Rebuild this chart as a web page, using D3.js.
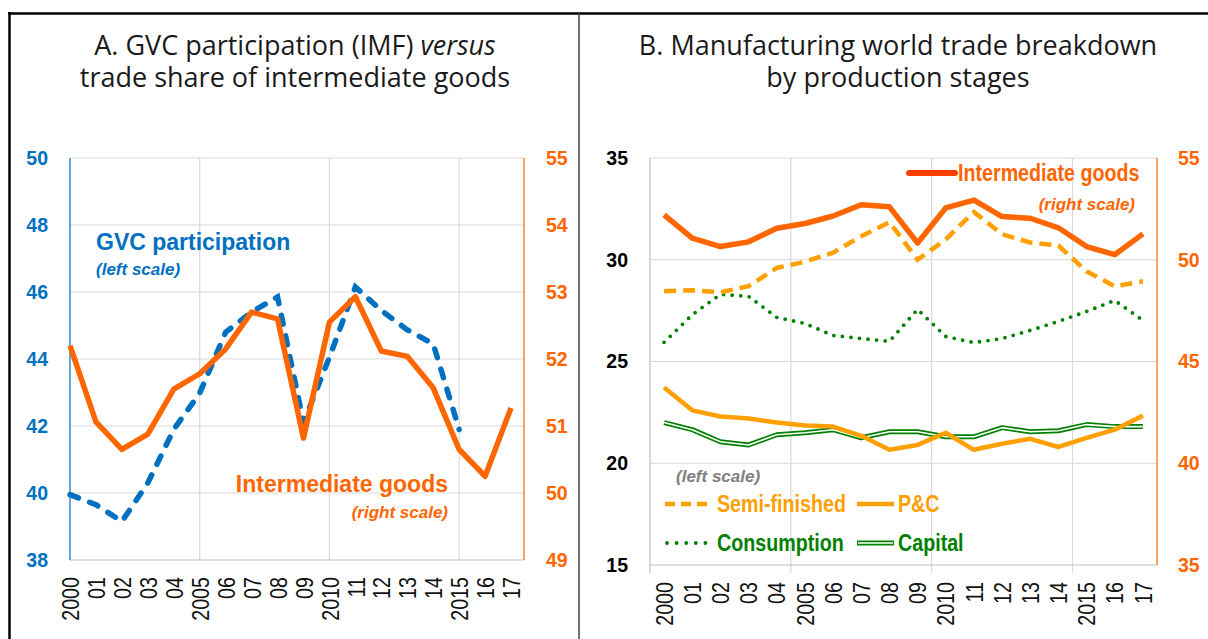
<!DOCTYPE html>
<html>
<head>
<meta charset="utf-8">
<script src="https://cdn.jsdelivr.net/npm/d3@7"></script>
<style>
  body { margin: 0; background: #fff; }
  svg text { font-family: "Liberation Sans", Arial, sans-serif; }
  .title { font-family: "Open Sans", sans-serif !important; font-size: 27px; fill: #1a1a1a; }
</style>
</head>
<body>
<svg id="chart" width="1208" height="639"></svg>
<script>
// ---- data ----
var years = [2000, 2001, 2002, 2003, 2004, 2005, 2006, 2007, 2008, 2009, 2010, 2011, 2012, 2013, 2014, 2015, 2016, 2017];
var yearLabels = ["2000", "01", "02", "03", "04", "2005", "06", "07", "08", "09", "2010", "11", "12", "13", "14", "2015", "16", "17"];
var gvcYears = [2000, 2001, 2002, 2003, 2004, 2005, 2006, 2007, 2008, 2009, 2010, 2011, 2012, 2013, 2014, 2015];
var gvc = [39.95, 39.65, 39.15, 40.3, 41.9, 42.98, 44.8, 45.4, 45.85, 42.1, 44.05, 46.15, 45.45, 44.87, 44.45, 41.9];
var interGoods = [52.2, 51.06, 50.65, 50.88, 51.55, 51.78, 52.15, 52.7, 52.6, 50.82, 52.55, 52.93, 52.12, 52.04, 51.57, 50.65, 50.25, 51.27];
var semiFinished = [28.45, 28.5, 28.4, 28.7, 29.6, 29.9, 30.35, 31.15, 31.85, 30.0, 31.0, 32.35, 31.25, 30.85, 30.7, 29.43, 28.7, 28.94];
var pAndC = [23.72, 22.6, 22.3, 22.2, 22.0, 21.85, 21.8, 21.35, 20.66, 20.9, 21.5, 20.66, 20.96, 21.2, 20.8, 21.25, 21.65, 22.34];
var consumption = [25.94, 27.3, 28.3, 28.2, 27.17, 26.87, 26.28, 26.13, 25.99, 27.56, 26.23, 25.93, 26.13, 26.53, 26.97, 27.46, 28.0, 27.02];
var capital = [22.0, 21.65, 21.06, 20.9, 21.4, 21.5, 21.65, 21.25, 21.55, 21.55, 21.3, 21.3, 21.75, 21.55, 21.6, 21.9, 21.8, 21.8];

var ticksALeft = [38, 40, 42, 44, 46, 48, 50];
var ticksARight = [49, 50, 51, 52, 53, 54, 55];
var ticksBLeft = [15, 20, 25, 30, 35];
var ticksBRight = [35, 40, 45, 50, 55];
var gridYears = [2005, 2010, 2015];

var blue = "#0070C0", orange = "#FF6600", lightOrange = "#FFA000", green = "#008000", grid = "#d9d9d9";
var NARROW = 0.82; // no condensed font installed, squeeze Liberation Sans instead

var svg = d3.select("#chart");

// ---- frame ----
svg.append("line").attr("x1", 8).attr("x2", 1208).attr("y1", 13.5).attr("y2", 13.5).style("stroke", "#000").style("stroke-width", 2.5);
svg.append("line").attr("x1", 9.5).attr("x2", 9.5).attr("y1", 12).attr("y2", 639).style("stroke", "#000").style("stroke-width", 2.5);
svg.append("line").attr("x1", 579).attr("x2", 579).attr("y1", 13).attr("y2", 639).style("stroke", "#404040").style("stroke-width", 1.5);

// ---- titles (one text each, two lines) ----
var tA = svg.append("text").attr("class", "title").attr("text-anchor", "middle").attr("y", 55);
tA.append("tspan").attr("x", 295).text("A. GVC participation (IMF) ");
tA.append("tspan").style("font-style", "italic").text("versus");
tA.append("tspan").attr("x", 295).attr("dy", 32).text("trade share of intermediate goods");
var tB = svg.append("text").attr("class", "title").attr("text-anchor", "middle").attr("y", 55);
tB.append("tspan").attr("x", 898).text("B. Manufacturing world trade breakdown");
tB.append("tspan").attr("x", 898).attr("dy", 32).text("by production stages");

function styleTicks(g, color) {
  g.select(".domain").remove();
  g.selectAll("text").style("font-size", "19.5px").style("font-weight", "bold").style("fill", color);
}

function xLabels(g) {
  g.select(".domain").remove();
  g.selectAll("text")
    .attr("transform", "rotate(-90) scale(" + NARROW + ",1)")
    .attr("text-anchor", "end")
    .attr("x", -17 / NARROW).attr("y", 0).attr("dy", "0.36em")
    .style("font-size", "24px").style("fill", "#111");
}

function narrowText(parent, x, y, txt, color, anchor) {
  return parent.append("text")
    .attr("transform", "translate(" + x + "," + y + ") scale(" + NARROW + ",1)")
    .attr("text-anchor", anchor || "start")
    .style("font-size", "24px").style("font-weight", "bold").style("fill", color)
    .text(txt);
}

// ================= Panel A =================
var xA = d3.scaleLinear().domain([2000, 2017.5]).range([70, 524]);
var yAL = d3.scaleLinear().domain([38, 50]).range([560, 158]);
var yAR = d3.scaleLinear().domain([49, 55]).range([560, 158]);

var pA = svg.append("g");
pA.selectAll(".hgrid").data(ticksALeft.slice(1)).enter().append("line")
  .attr("x1", 70).attr("x2", 524).attr("y1", d => yAL(d)).attr("y2", d => yAL(d))
  .style("stroke", grid).style("stroke-width", 1.2);
pA.selectAll(".vgrid").data(gridYears).enter().append("line")
  .attr("x1", d => xA(d)).attr("x2", d => xA(d)).attr("y1", 158).attr("y2", 560)
  .style("stroke", grid).style("stroke-width", 1.2);
pA.append("line").attr("x1", 70).attr("x2", 524).attr("y1", 560).attr("y2", 560).style("stroke", "#bfbfbf").style("stroke-width", 1.2);
pA.append("line").attr("x1", 70).attr("x2", 70).attr("y1", 158).attr("y2", 560).style("stroke", blue).style("stroke-width", 1.2);
pA.append("line").attr("x1", 524).attr("x2", 524).attr("y1", 158).attr("y2", 560).style("stroke", orange).style("stroke-width", 1.2);

pA.append("g").attr("transform", "translate(70,0)")
  .call(d3.axisLeft(yAL).tickValues(ticksALeft).tickFormat(d3.format("d")).tickSize(0).tickPadding(22))
  .call(g => styleTicks(g, blue));
pA.append("g").attr("transform", "translate(524,0)")
  .call(d3.axisRight(yAR).tickValues(ticksARight).tickFormat(d3.format("d")).tickSize(0).tickPadding(22))
  .call(g => styleTicks(g, orange));
pA.append("g").attr("transform", "translate(0,560)")
  .call(d3.axisBottom(xA).tickValues(years).tickFormat((d, i) => yearLabels[i]).tickSize(0))
  .call(xLabels);

var lineA_gvc = d3.line().x((d, i) => xA(gvcYears[i])).y(d => yAL(d));
var lineA_int = d3.line().x((d, i) => xA(years[i])).y(d => yAR(d));

pA.append("path").datum(gvc).attr("d", lineA_gvc)
  .style("fill", "none").style("stroke", blue).style("stroke-width", 5.5)
  .style("stroke-dasharray", "9 12").style("stroke-linecap", "round");
pA.append("path").datum(interGoods).attr("d", lineA_int)
  .style("fill", "none").style("stroke", orange).style("stroke-width", 5.5).style("stroke-linejoin", "round");

pA.append("text").attr("x", 96).attr("y", 250).style("font-size", "23px").style("font-weight", "bold").style("fill", blue).text("GVC participation");
pA.append("text").attr("x", 96).attr("y", 275).style("font-size", "17px").style("font-weight", "bold").style("font-style", "italic").style("fill", blue).text("(left scale)");
pA.append("text").attr("x", 448).attr("y", 492).attr("text-anchor", "end").style("font-size", "23px").style("font-weight", "bold").style("fill", orange).text("Intermediate goods");
pA.append("text").attr("x", 448).attr("y", 518).attr("text-anchor", "end").style("font-size", "17px").style("font-weight", "bold").style("font-style", "italic").style("fill", orange).text("(right scale)");

// ================= Panel B =================
var xB = d3.scaleBand().domain(years).range([650, 1157]).padding(0);
var cx = d => xB(d) + xB.bandwidth() / 2;
var yBL = d3.scaleLinear().domain([15, 35]).range([565, 158]);
var yBR = d3.scaleLinear().domain([35, 55]).range([565, 158]);

var pB = svg.append("g");
pB.selectAll(".hgrid").data(ticksBLeft.slice(1)).enter().append("line")
  .attr("x1", 650).attr("x2", 1157).attr("y1", d => yBL(d)).attr("y2", d => yBL(d))
  .style("stroke", grid).style("stroke-width", 1.2);
pB.selectAll(".vgrid").data(gridYears).enter().append("line")
  .attr("x1", d => xB(d)).attr("x2", d => xB(d)).attr("y1", 158).attr("y2", 573)
  .style("stroke", grid).style("stroke-width", 1.2);
pB.append("line").attr("x1", 650).attr("x2", 1157).attr("y1", 565).attr("y2", 565).style("stroke", "#bfbfbf").style("stroke-width", 1.2);
pB.append("line").attr("x1", 650).attr("x2", 650).attr("y1", 158).attr("y2", 573).style("stroke", "#bfbfbf").style("stroke-width", 1.2);
pB.append("line").attr("x1", 1157).attr("x2", 1157).attr("y1", 158).attr("y2", 565).style("stroke", orange).style("stroke-width", 1.2);

pB.append("g").attr("transform", "translate(650,0)")
  .call(d3.axisLeft(yBL).tickValues(ticksBLeft).tickFormat(d3.format("d")).tickSize(0).tickPadding(22))
  .call(g => styleTicks(g, "#000"));
pB.append("g").attr("transform", "translate(1157,0)")
  .call(d3.axisRight(yBR).tickValues(ticksBRight).tickFormat(d3.format("d")).tickSize(0).tickPadding(21))
  .call(g => styleTicks(g, orange));
pB.append("g").attr("transform", "translate(0,565)")
  .call(d3.axisBottom(xB).tickValues(years).tickFormat((d, i) => yearLabels[i]).tickSize(0))
  .call(xLabels);

var lineBL = d3.line().x((d, i) => cx(years[i])).y(d => yBL(d));
var lineBR = d3.line().x((d, i) => cx(years[i])).y(d => yBR(d));

pB.append("path").datum(capital).attr("d", lineBL)
  .style("fill", "none").style("stroke", green).style("stroke-width", 5).style("stroke-linejoin", "round");
pB.append("path").datum(capital).attr("d", lineBL)
  .style("fill", "none").style("stroke", "#fff").style("stroke-width", 1.6).style("stroke-linejoin", "round");
pB.append("path").datum(pAndC).attr("d", lineBL)
  .style("fill", "none").style("stroke", lightOrange).style("stroke-width", 4.5).style("stroke-linejoin", "round");
pB.append("path").datum(consumption).attr("d", lineBL)
  .style("fill", "none").style("stroke", green).style("stroke-width", 3.8)
  .style("stroke-dasharray", "0 8.6").style("stroke-linecap", "round");
pB.append("path").datum(semiFinished).attr("d", lineBL)
  .style("fill", "none").style("stroke", lightOrange).style("stroke-width", 4.5)
  .style("stroke-dasharray", "12 7");
pB.append("path").datum(interGoods).attr("d", lineBR)
  .style("fill", "none").style("stroke", orange).style("stroke-width", 5.5).style("stroke-linejoin", "round");

// legend panel B
pB.append("line").attr("x1", 909).attr("x2", 955).attr("y1", 173).attr("y2", 173)
  .style("stroke", "#FF3F00").style("stroke-width", 6).style("stroke-linecap", "round");
narrowText(pB, 958, 181, "Intermediate goods", orange);
pB.append("text").attr("x", 1135).attr("y", 210).attr("text-anchor", "end").style("font-size", "17px").style("font-weight", "bold").style("font-style", "italic").style("fill", orange).text("(right scale)");
pB.append("text").attr("x", 676).attr("y", 482).style("font-size", "17px").style("font-weight", "bold").style("font-style", "italic").style("fill", "#808080").text("(left scale)");

var legendB = [
  {name: "Semi-finished", x: 665, y: 504, color: lightOrange, kind: "dash"},
  {name: "P&C", x: 857, y: 504, color: lightOrange, kind: "solid"},
  {name: "Consumption", x: 665, y: 543, color: green, kind: "dot"},
  {name: "Capital", x: 857, y: 543, color: green, kind: "double"}
];
legendB.forEach(function(l) {
  var x2 = l.kind == "dash" || l.kind == "dot" ? l.x + 48 : l.x + 37;
  var ln = pB.append("line").attr("x1", l.x).attr("x2", x2).attr("y1", l.y).attr("y2", l.y)
    .style("stroke", l.color).style("stroke-width", 4.5);
  if (l.kind == "dash") ln.style("stroke-dasharray", "10 6");
  if (l.kind == "dot") ln.style("stroke-width", 3.8).style("stroke-dasharray", "0 9.6").style("stroke-linecap", "round").attr("x1", l.x + 2);
  if (l.kind == "double") {
    ln.style("stroke-width", 5);
    pB.append("line").attr("x1", l.x + 1).attr("x2", x2 - 1).attr("y1", l.y).attr("y2", l.y)
      .style("stroke", "#fff").style("stroke-width", 1.6);
  }
  narrowText(pB, x2 + 4, l.y + 8, l.name, l.color);
});
</script>
</body>
</html>
